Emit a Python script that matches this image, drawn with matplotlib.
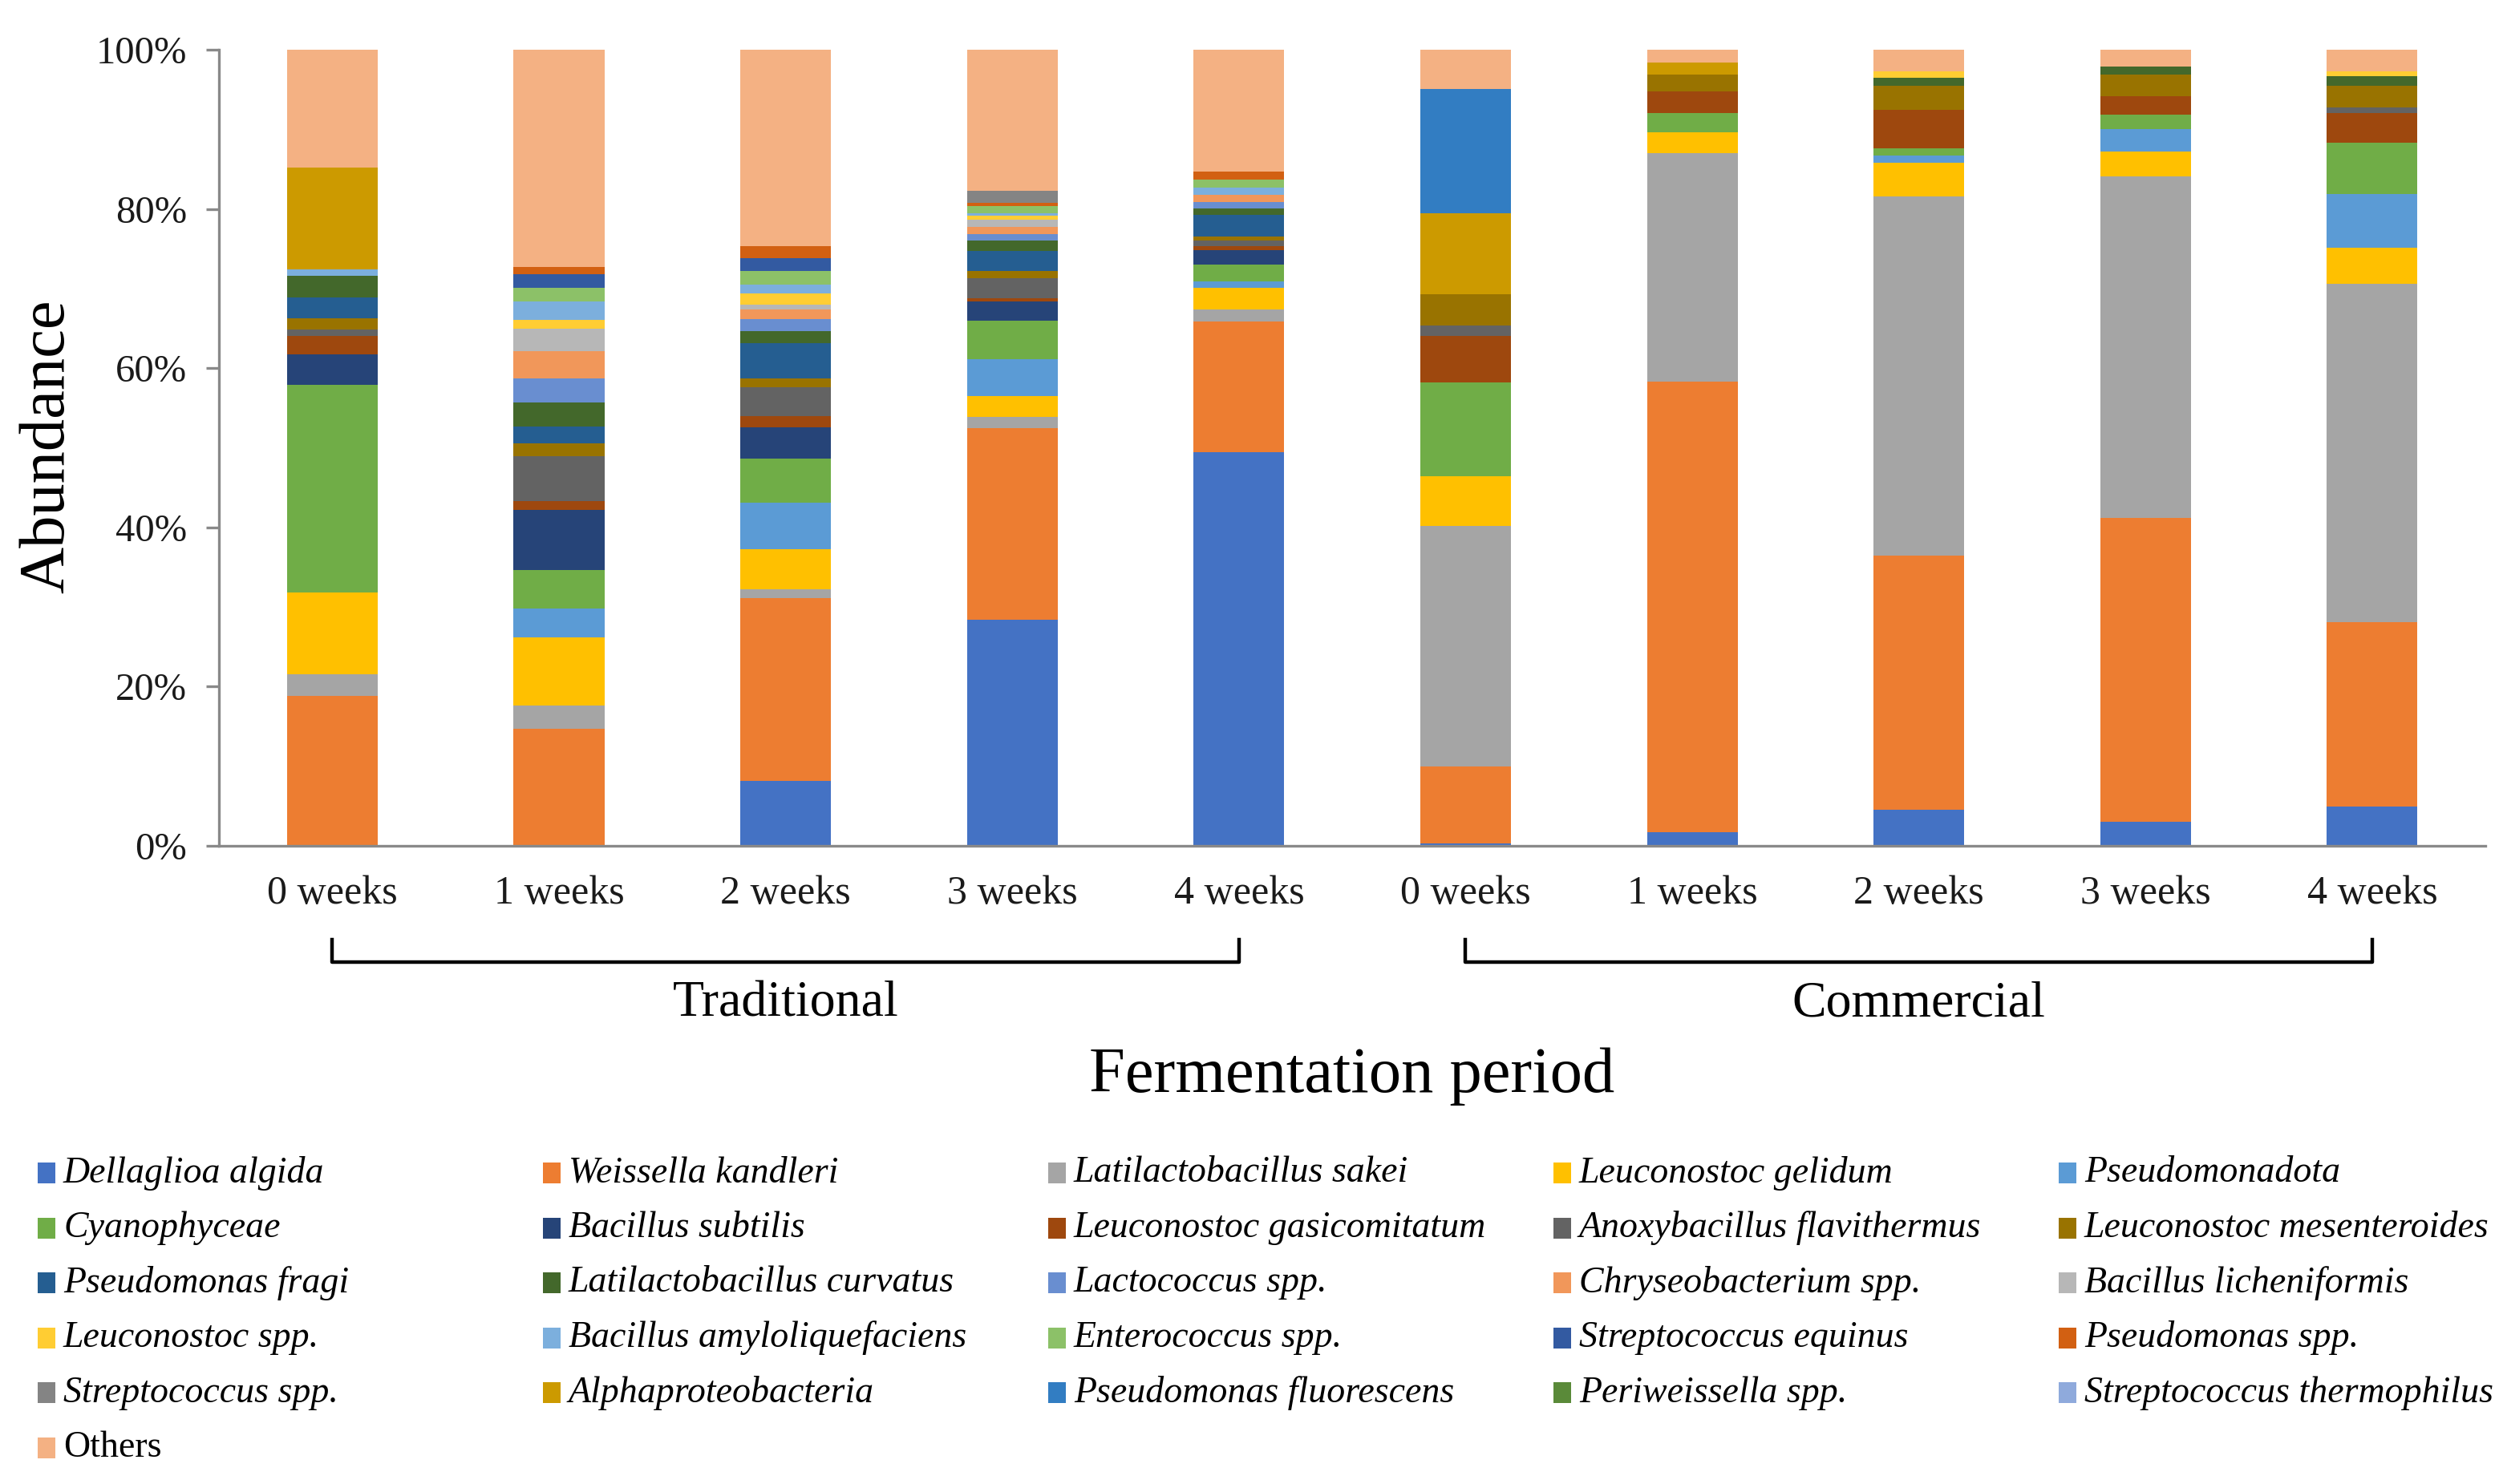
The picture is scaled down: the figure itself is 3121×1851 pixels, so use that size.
import matplotlib
matplotlib.use('Agg')
import matplotlib.pyplot as plt
import numpy as np
from matplotlib.patches import Rectangle

plt.rcParams['font.family'] = ['Liberation Serif', 'DejaVu Serif']

periods = ['0 weeks', '1 weeks', '2 weeks', '3 weeks', '4 weeks',
           '0 weeks', '1 weeks', '2 weeks', '3 weeks', '4 weeks']
groups = ['Traditional', 'Commercial']

species = ['Dellaglioa algida', 'Weissella kandleri', 'Latilactobacillus sakei',
           'Leuconostoc gelidum', 'Pseudomonadota', 'Cyanophyceae', 'Bacillus subtilis',
           'Leuconostoc gasicomitatum', 'Anoxybacillus flavithermus',
           'Leuconostoc mesenteroides', 'Pseudomonas fragi', 'Latilactobacillus curvatus',
           'Lactococcus spp.', 'Chryseobacterium spp.', 'Bacillus licheniformis',
           'Leuconostoc spp.', 'Bacillus amyloliquefaciens', 'Enterococcus spp.',
           'Streptococcus equinus', 'Pseudomonas spp.', 'Streptococcus spp.',
           'Alphaproteobacteria', 'Pseudomonas fluorescens', 'Periweissella spp.',
           'Streptococcus thermophilus', 'Others']

# abundance (%) per bar: traditional 0-4 weeks, commercial 0-4 weeks
dellaglioa = [0, 0, 8.2, 28.4, 49.5, 0.3, 1.7, 4.5, 3.0, 4.9]
weissella = [18.8, 14.7, 22.9, 24.1, 16.4, 9.7, 56.6, 32.0, 38.2, 23.2]
l_sakei = [2.8, 2.9, 1.1, 1.4, 1.5, 30.2, 28.7, 45.1, 42.9, 42.5]
l_gelidum = [10.2, 8.6, 5.1, 2.6, 2.7, 6.2, 2.6, 4.2, 3.1, 4.5]
pseudomonadota = [0, 3.6, 5.8, 4.6, 0.8, 0, 0, 0.9, 2.8, 6.8]
cyanophyceae = [26.1, 4.8, 5.5, 4.9, 2.1, 11.8, 2.4, 0.9, 1.8, 6.4]
b_subtilis = [3.8, 7.6, 4.0, 2.4, 1.8, 0, 0, 0, 0, 0]
l_gasicomitatum = [2.4, 1.1, 1.4, 0.4, 0.5, 5.9, 2.8, 4.8, 2.4, 3.7]
anoxybacillus = [0.8, 5.6, 3.6, 2.5, 0.7, 1.3, 0, 0, 0, 0.8]
l_mesenteroides = [1.4, 1.7, 1.1, 0.9, 0.5, 3.9, 2.1, 3.1, 2.7, 2.7]
p_fragi = [2.6, 2.1, 4.4, 2.5, 2.8, 0, 0, 0, 0, 0]
l_curvatus = [2.7, 3.0, 1.6, 1.3, 0.8, 0, 0, 1.0, 1.0, 1.2]
lactococcus = [0, 3.0, 1.5, 0.8, 0.8, 0, 0, 0, 0, 0]
chryseobacterium = [0, 3.4, 1.2, 0.9, 0.9, 0, 0, 0, 0, 0]
b_licheniformis = [0, 2.9, 0.6, 1.0, 0, 0, 0, 0, 0, 0]
leuconostoc_spp = [0, 1.1, 1.4, 0.5, 0, 0, 0, 0.8, 0, 0.6]
b_amyloliquefaciens = [0.8, 2.3, 1.1, 0.3, 0.9, 0, 0, 0, 0, 0]
enterococcus = [0, 1.7, 1.7, 0.9, 1.0, 0, 0, 0, 0, 0]
s_equinus = [0, 1.7, 1.6, 0, 0, 0, 0, 0, 0, 0]
pseudomonas_spp = [0, 0.9, 1.5, 0.4, 1.0, 0, 0, 0, 0, 0]
streptococcus_spp = [0, 0, 0, 1.5, 0, 0, 0, 0, 0, 0]
alphaproteobacteria = [12.8, 0, 0, 0, 0, 10.2, 1.5, 0, 0, 0]
p_fluorescens = [0, 0, 0, 0, 0, 15.6, 0, 0, 0, 0]
periweissella = [0, 0, 0, 0, 0, 0, 0, 0, 0, 0]
s_thermophilus = [0, 0, 0, 0, 0, 0, 0, 0, 0, 0]
others = [14.8, 27.3, 24.7, 17.7, 15.3, 4.9, 1.6, 2.7, 2.1, 2.7]

series = [dellaglioa, weissella, l_sakei, l_gelidum, pseudomonadota, cyanophyceae,
          b_subtilis, l_gasicomitatum, anoxybacillus, l_mesenteroides, p_fragi,
          l_curvatus, lactococcus, chryseobacterium, b_licheniformis, leuconostoc_spp,
          b_amyloliquefaciens, enterococcus, s_equinus, pseudomonas_spp,
          streptococcus_spp, alphaproteobacteria, p_fluorescens, periweissella,
          s_thermophilus, others]

colors = ['#4472C4', '#ED7D31', '#A5A5A5', '#FFC000', '#5B9BD5', '#70AD47',
          '#264478', '#9E480E', '#636363', '#997300', '#255E91', '#43682B',
          '#698ED0', '#F1975A', '#B7B7B7', '#FFCD33', '#7CAFDD', '#8CC168',
          '#335AA1', '#D26012', '#848484', '#CC9A00', '#327DC2', '#5A8A39',
          '#8FAADC', '#F4B183']

W, H = 3121, 1851
fig = plt.figure(figsize=(W / 200, H / 200), dpi=200)
ax = fig.add_axes([0.0875, 0.430, 0.9055, 0.5365])

x = np.arange(len(periods))
bottom = np.zeros(len(periods))
for vals, c in zip(series, colors):
    vals = np.array(vals, dtype=float)
    ax.bar(x, vals, 0.4, bottom=bottom, color=c, linewidth=0)
    bottom += vals

ax.set_xlim(-0.5, len(periods) - 0.5)
ax.set_ylim(0, 100)
ax.set_yticks(np.arange(0, 101, 20))
ax.set_yticklabels([f'{v}%' for v in range(0, 101, 20)])
ax.set_xticks(x)
ax.set_xticklabels(periods)
ax.tick_params(axis='x', length=0, pad=13, labelsize=18, labelcolor='#1a1a1a')
ax.tick_params(axis='y', length=5.8, width=1.2, color='#898989', pad=8.5,
               labelsize=17.5, labelcolor='#1a1a1a')
for s in ['top', 'right']:
    ax.spines[s].set_visible(False)
for s in ['left', 'bottom']:
    ax.spines[s].set_color('#898989')
    ax.spines[s].set_linewidth(1.2)

# group brackets under the tick labels
tr = ax.get_xaxis_transform()
for gi, name in enumerate(groups):
    x0, x1 = gi * 5, gi * 5 + 4
    ax.plot([x0, x0, x1, x1], [-0.118, -0.146, -0.146, -0.118], color='black',
            lw=1.6, transform=tr, clip_on=False)
    ax.text((x0 + x1) / 2, -0.199, name, transform=tr, ha='center', va='center',
            fontsize=23)

ax.text(0.5, -0.289, 'Fermentation period', transform=ax.transAxes,
        ha='center', va='center', fontsize=29)
fig.text(0.019, 0.699, 'Abundance', rotation=90, ha='center', va='center',
         fontsize=29)

# legend, 5 columns filled row by row
for i, (name, c) in enumerate(zip(species, colors)):
    row, col = divmod(i, 5)
    xl = 47 + 630 * col
    yc = 1463 + 68.6 * row
    fig.patches.append(Rectangle((xl / W, 1 - (yc + 13) / H), 22 / W, 26 / H,
                                 transform=fig.transFigure, color=c, lw=0))
    fig.text((xl + 32) / W, 1 - yc / H, name, ha='left', va='center',
             fontsize=16.5, style='normal' if name == 'Others' else 'italic')

fig.savefig('out.png', dpi=200)
